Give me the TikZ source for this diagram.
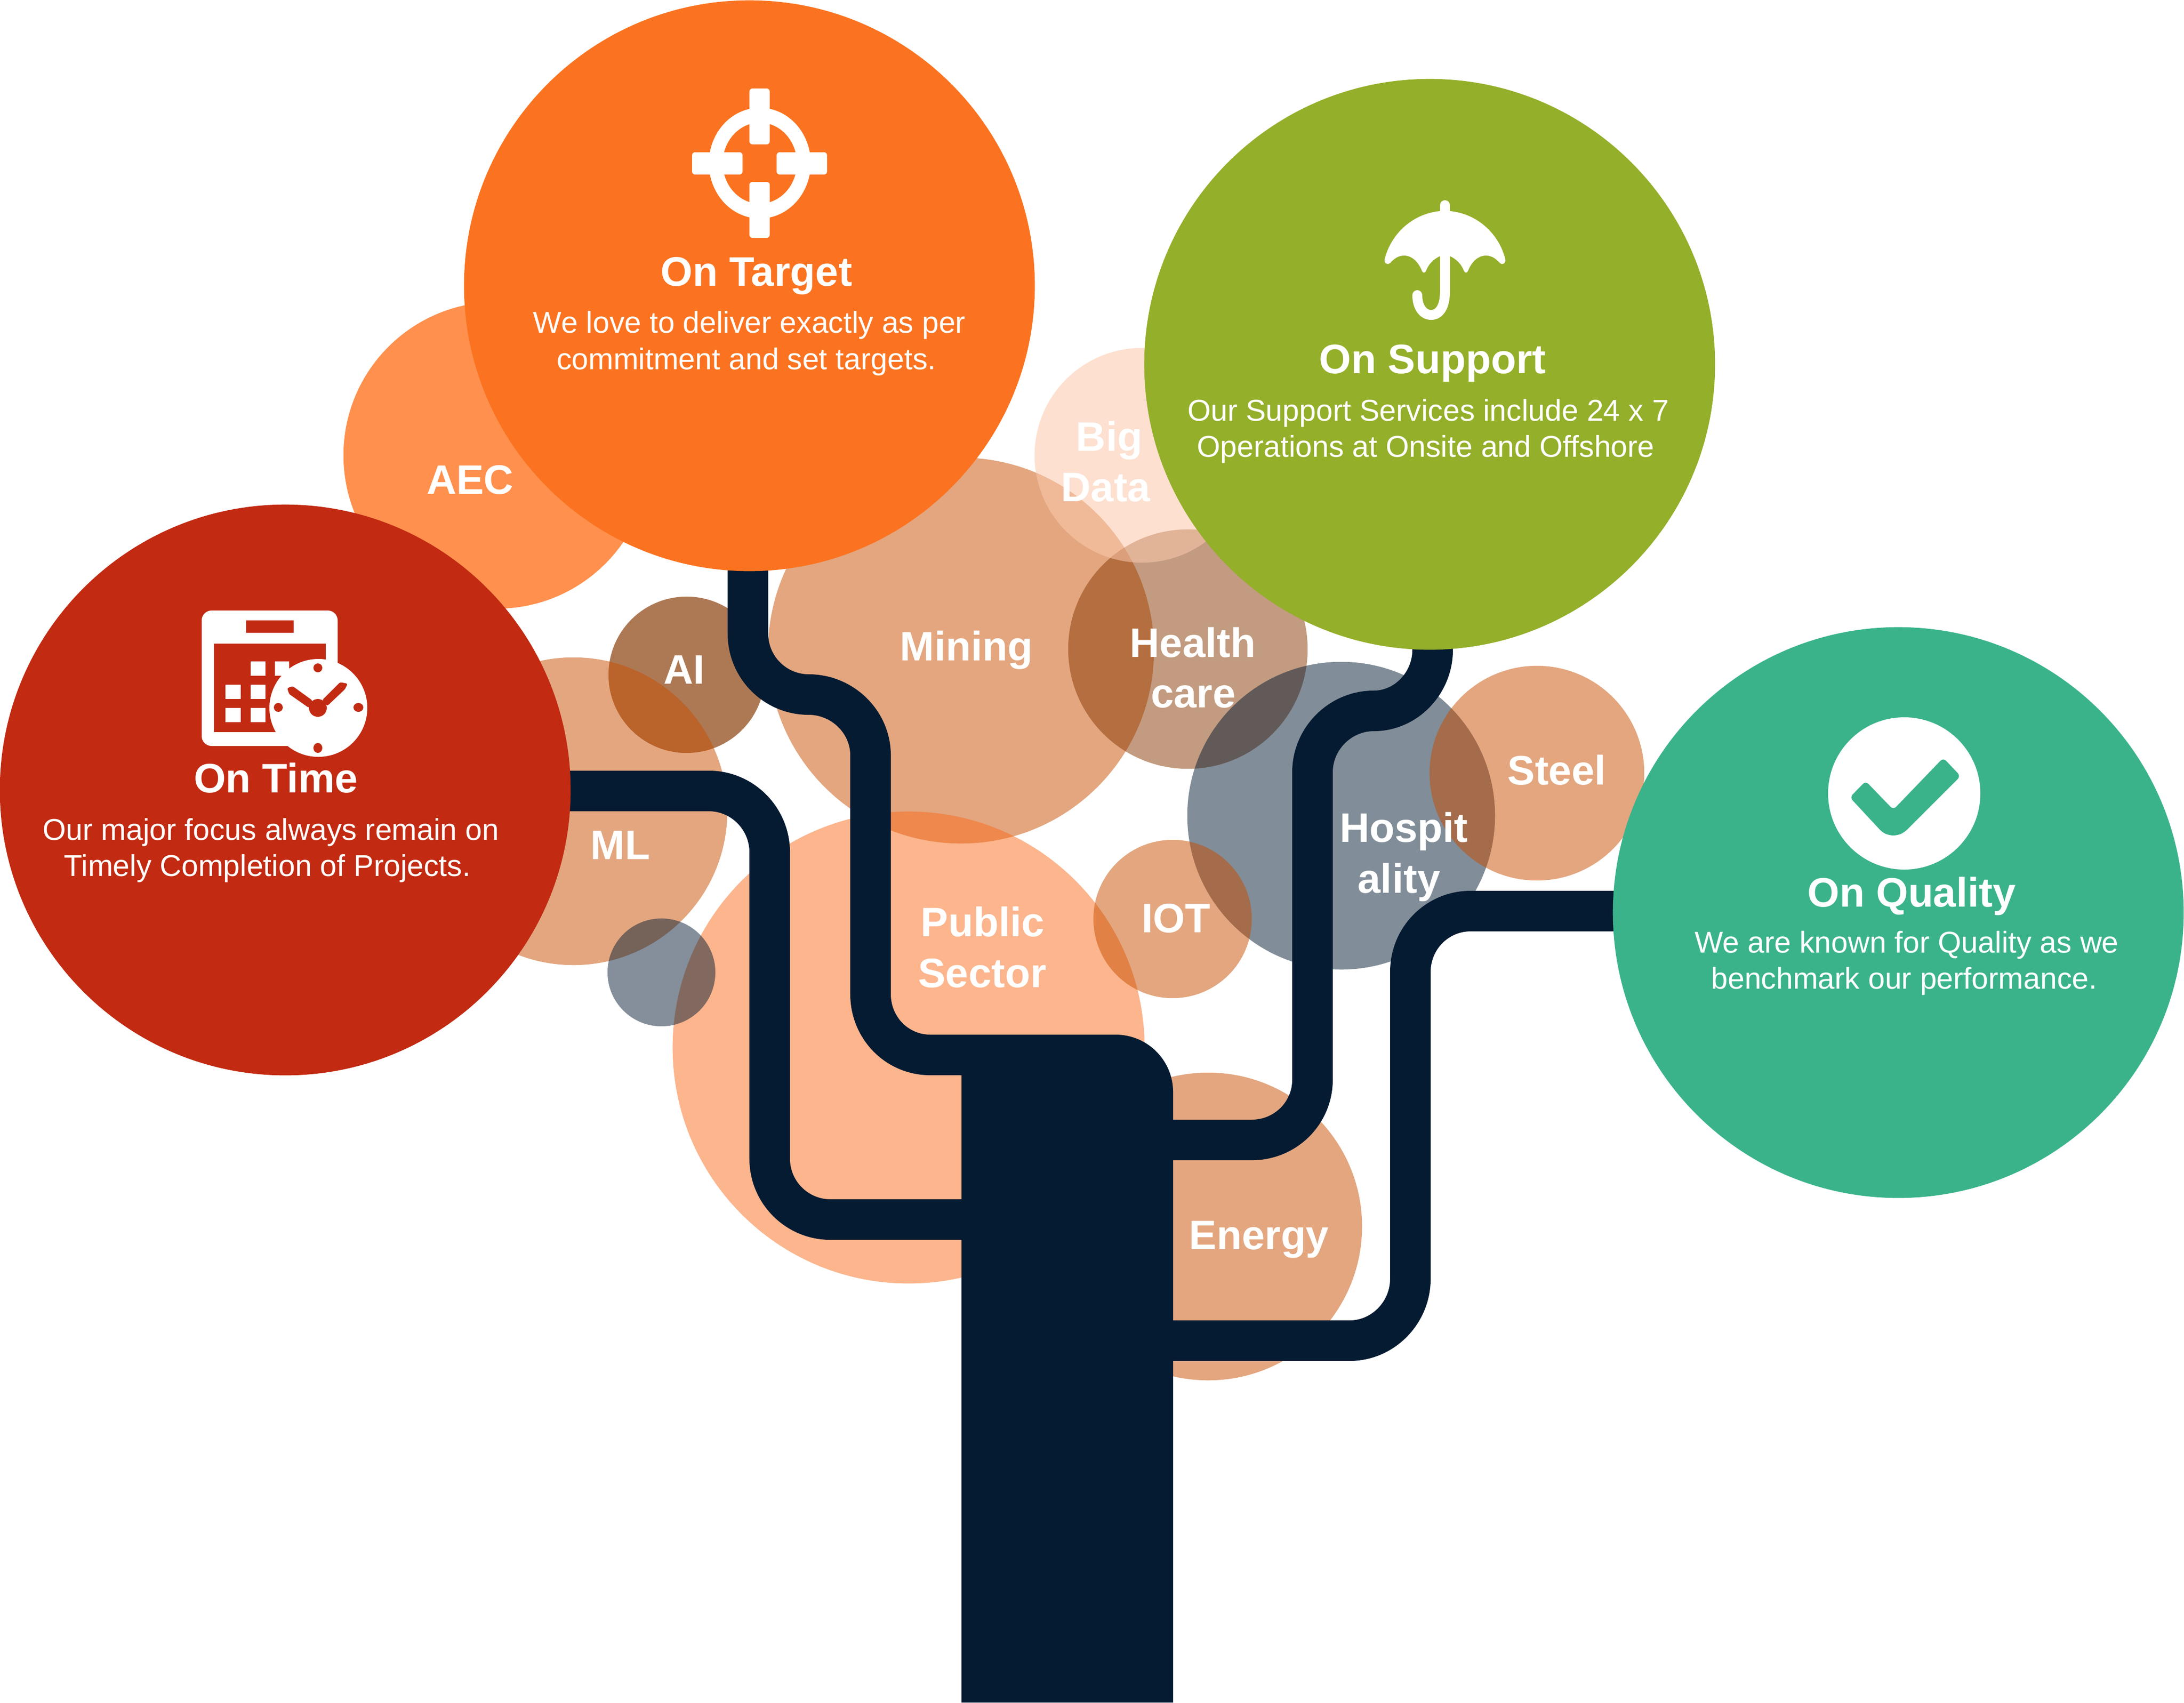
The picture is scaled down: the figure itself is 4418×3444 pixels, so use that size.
\documentclass[tikz,border=0pt]{standalone}
\usepackage{fontspec}
\setmainfont{Liberation Sans}
\definecolor{navy}{HTML}{041B32}
\definecolor{timeC}{HTML}{C22A12}
\definecolor{targetC}{HTML}{FB7320}
\definecolor{supportC}{HTML}{94AF2A}
\definecolor{qualityC}{HTML}{3AB38B}
\definecolor{brownA}{HTML}{C74D00}
\definecolor{brownB}{HTML}{853701}
\definecolor{orangeA}{HTML}{F96B1B}
\definecolor{orangeB}{HTML}{FF6B12}
\definecolor{paleA}{HTML}{FBC8AB}
\tikzset{
  x=0.01cm,y=-0.01cm,
  disc/.style args={#1/#2/#3}{circle,inner sep=0pt,minimum size=#1*0.02cm,fill=#2,fill opacity=#3,draw=none},
  bigdisc/.style={circle,inner sep=0pt,minimum size=11.54cm,fill=#1,draw=none},
  branch/.style={draw=navy,line width=0.82cm,line cap=butt,line join=round},
  title/.style={text=white,font=\fontsize{23.7}{23.7}\selectfont\bfseries,inner sep=0pt,anchor=base},
  body/.style={text=white,font=\fontsize{17.3}{17.3}\selectfont,inner sep=0pt,anchor=base},
}
\begin{document}
\begin{tikzpicture}
\useasboundingbox (0,0) rectangle (4418,3444);
% translucent discs
\node[disc=310/orangeB/.75] (aec) at (1005,921) {};
\node[disc=158/brownB/.67] (ai) at (1389,1365) {};
\node[disc=311/brownA/.5] (ml) at (1160,1641) {};
\node[disc=390/brownA/.5] (mining) at (1944,1316) {};
\node[disc=477/orangeA/.5] (public) at (1838,2119) {};
\node[disc=242/brownB/.5] (health) at (2403,1313) {};
\node[disc=217/paleA/.56] (bigdata) at (2310,921) {};
\node[disc=311/navy/.5] (hosp) at (2713,1650) {};
\node[disc=160/brownA/.5] (iot) at (2372,1859) {};
\node[disc=217/brownA/.5] (steel) at (3109,1564) {};
\node[disc=311/brownA/.5] (energy) at (2444,2481) {};
\node[disc=109/navy/.49] (small) at (1338,1967) {};
% trunk
\coordinate (t1) at (1960,2134);
\coordinate (t2) at (1960,2467);
\coordinate (t3) at (2360,2306);
\coordinate (t4) at (2360,2712);
\fill[navy] (1945,3444) -- (1945,2093) -- (2257,2093) .. controls (2321,2093) and (2373,2145) .. (2373,2209) -- (2373,3444) -- cycle;
% branches
\coordinate (bTarget) at (1513,1100);
\coordinate (bTime) at (1100,1600);
\coordinate (bSupport) at (2898,1250);
\coordinate (bQuality) at (3300,1843);
\draw[branch] (bTarget) -- (1513,1282) .. controls (1513,1350) and (1568,1405) .. (1636,1405) .. controls (1704,1405) and (1761,1460) .. (1761,1528) -- (1761,2011) .. controls (1761,2079) and (1814,2134) .. (1882,2134) -- (t1);
\draw[branch] (bTime) -- (1434,1600) .. controls (1502,1600) and (1557,1656) .. (1557,1724) -- (1557,2344) .. controls (1557,2412) and (1612,2467) .. (1680,2467) -- (t2);
\draw[branch] (bSupport) -- (2898,1315) .. controls (2898,1381) and (2845,1438) .. (2779,1438) .. controls (2711,1438) and (2655,1494) .. (2655,1562) -- (2655,2184) .. controls (2655,2252) and (2600,2306) .. (2532,2306) -- (t3);
\draw[branch] (bQuality) -- (2975,1843) .. controls (2907,1843) and (2853,1898) .. (2853,1966) -- (2853,2587) .. controls (2853,2655) and (2798,2712) .. (2730,2712) -- (t4);
% big discs
\node[bigdisc=timeC] (time) at (577,1598) {};
\node[bigdisc=targetC] (target) at (1516,578) {};
\node[bigdisc=supportC] (support) at (2892,737) {};
\node[bigdisc=qualityC] (quality) at (3840,1846) {};
% calendar icon
\fill[white,rounded corners=0.2cm] (408,1235) rectangle (683,1509);
\fill[timeC] (498,1255) rectangle (594,1280);
\fill[timeC] (433,1302) rectangle (659,1481);
\fill[white] (507,1338) rectangle (537,1367);
\fill[white] (556,1338) rectangle (585,1367);
\fill[white] (456,1385) rectangle (487,1414);
\fill[white] (507,1385) rectangle (537,1414);
\fill[white] (456,1432) rectangle (487,1461);
\fill[white] (507,1432) rectangle (537,1461);
\fill[white] (644,1432) circle[radius=99];
\fill[timeC] (643,1351) circle[radius=9];
\fill[timeC] (563,1431) circle[radius=9];
\fill[timeC] (725,1431) ellipse[x radius=10,y radius=9];
\fill[timeC] (643,1513) ellipse[x radius=9,y radius=10];
\fill[timeC] (643,1432) circle[radius=18];
\fill[timeC,rounded corners=0.03cm] (652,1416) -- (688,1380) -- (703,1383) -- (698,1394) -- (662,1428) -- cycle;
\fill[timeC,rounded corners=0.03cm] (632,1417) -- (592,1388) -- (581,1392) -- (585,1404) -- (625,1432) -- cycle;
% target icon
\fill[white,even odd rule] (1537,330) ellipse[x radius=103,y radius=112] (1537,330) ellipse[x radius=75,y radius=82];
\fill[white,rounded corners=0.06cm] (1516,179) rectangle (1557,292);
\fill[white,rounded corners=0.06cm] (1516,368) rectangle (1557,481);
\fill[white,rounded corners=0.06cm] (1400,308) rectangle (1502,353);
\fill[white,rounded corners=0.06cm] (1571,308) rectangle (1673,353);
% umbrella icon
\fill[white] (2913,427) .. controls (2860,432) and (2815,470) .. (2801,524) .. controls (2799,533) and (2808,537) .. (2812,532) .. controls (2820,523) and (2829,517) .. (2840,517) .. controls (2858,517) and (2870,532) .. (2876,547) .. controls (2878,553) and (2883,553) .. (2885,547) .. controls (2890,534) and (2900,524) .. (2913,518) -- (2933,518) .. controls (2946,524) and (2956,534) .. (2961,547) .. controls (2963,553) and (2968,553) .. (2970,547) .. controls (2976,532) and (2988,517) .. (3006,517) .. controls (3017,517) and (3026,523) .. (3034,532) .. controls (3038,537) and (3047,533) .. (3045,524) .. controls (3031,470) and (2986,432) .. (2933,427) -- cycle;
\draw[white,line width=0.2cm,line cap=round] (2923,430) -- (2923,415);
\draw[white,line width=0.2cm,line cap=round] (2923,510) -- (2923,590) .. controls (2923,620) and (2912,637) .. (2895,637) .. controls (2878,637) and (2867,620) .. (2867,597);
% check icon
\fill[white] (3852,1605) circle[radius=154];
\fill[qualityC,rounded corners=0.08cm] (3774,1580) -- (3830,1638) -- (3931,1533) -- (3966,1570) -- (3852,1684) -- (3838,1690) -- (3822,1690) -- (3808,1684) -- (3742,1613) -- cycle;
% labels
\node[title] (lAEC) at (951,999) {AEC};
\node[title] (lML) at (1255,1738) {ML};
\node[title] (lAI) at (1384,1383) {AI};
\node[title] (lMining) at (1955,1336) {Mining};
\node[title] (lBig) at (2244,912) {Big};
\node[title] (lData) at (2237,1014) {Data};
\node[title] (lHealth) at (2413,1329) {Health};
\node[title] (lCare) at (2414,1431) {care};
\node[title] (lPublic) at (1988,1894) {Public};
\node[title] (lSector) at (1987,1997) {Sector};
\node[title] (lIOT) at (2379,1886) {IOT};
\node[title] (lHospit) at (2840,1703) {Hospit};
\node[title] (lAlity) at (2830,1806) {ality};
\node[title] (lSteel) at (3149,1587) {Steel};
\node[title] (lEnergy) at (2547,2527) {Energy};
\node[title] (tTarget) at (1530,578) {On Target};
\node[body] (b1a) at (1516,673) {We love to deliver exactly as per};
\node[body] (b1b) at (1510,747) {commitment and set targets.};
\node[title] (tTime) at (558,1603) {On Time};
\node[body] (b2a) at (548,1699) {Our major focus always remain on};
\node[body] (b2b) at (541,1772) {Timely Completion of Projects.};
\node[title] (tSupport) at (2898,755) {On Support};
\node[body] (b3a) at (2889,851) {Our Support Services include 24 x 7};
\node[body] (b3b) at (2884,924) {Operations at Onsite and Offshore};
\node[title] (tQuality) at (3867,1834) {On Quality};
\node[body] (b4a) at (3857,1927) {We are known for Quality as we};
\node[body] (b4b) at (3852,2000) {benchmark our performance.};
\end{tikzpicture}
\end{document}
